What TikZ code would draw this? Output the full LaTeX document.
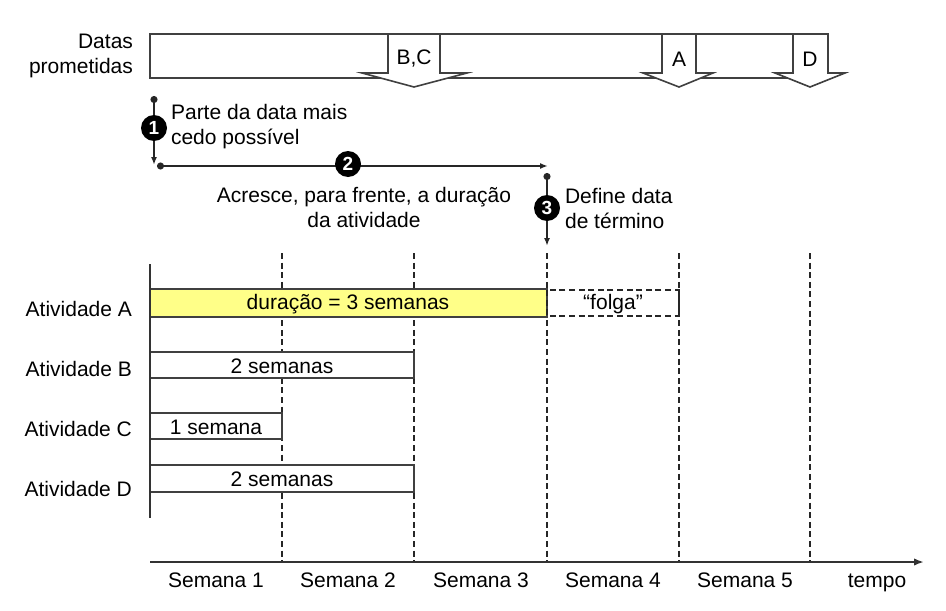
\documentclass[tikz,border=0pt]{standalone}
\usepackage{fontspec}
\setmainfont{Liberation Sans}
\usetikzlibrary{arrows.meta}

\begin{document}
\begin{tikzpicture}[x=0.5pt, y=-0.5pt, font=\fontsize{10.5}{12.5}\selectfont,
    frame/.style={draw=black!75, line width=0.8pt},
    stepline/.style={draw=black!85, line width=0.9pt, {Circle[length=3.5pt]}-{Latex[length=4pt]}},
    stepnum/.style={circle, fill=black, text=white, inner sep=0pt, minimum size=13pt, font=\fontsize{9.5}{9.5}\selectfont\bfseries},
    weekline/.style={draw=black!85, line width=0.8pt, dash pattern=on 3pt off 1.8pt},
    weeklabel/.style={text height=1.6ex, text depth=0.3ex},
    axis/.style={draw=black!80, line width=1pt}]
    \useasboundingbox (0,0) rectangle (946,610);

    \node[anchor=east, align=right] (prom) at (140,56) {Datas\\prometidas};
    \draw[frame] (150,34) rectangle (828,78);
    \filldraw[frame, fill=white] (388,34) -- (388,73) -- (362,73) -- (414,87) -- (467,73) -- (440,73) -- (440,34) -- cycle;
    \filldraw[frame, fill=white] (662,34) -- (662,73) -- (643,73) -- (679,87) -- (713,73) -- (696,73) -- (696,34) -- cycle;
    \filldraw[frame, fill=white] (793,34) -- (793,73) -- (775,73) -- (810,87) -- (845,73) -- (828,73) -- (828,34) -- cycle;
    \node (pBC) at (414,59) {B,C};
    \node (pA) at (679,59) {A};
    \node (pD) at (810,59) {D};

    \coordinate (s1a) at (154,96);
    \coordinate (s1b) at (154,165);
    \coordinate (s2a) at (157,166);
    \coordinate (s2b) at (548,166);
    \coordinate (s3a) at (547,173);
    \coordinate (s3b) at (547,246);
    \draw[stepline] (s1a) -- (s1b);
    \draw[stepline] (s2a) -- (s2b);
    \draw[stepline] (s3a) -- (s3b);
    \node[stepnum] (n1) at (154,128) {1};
    \node[stepnum] (n2) at (348,164) {2};
    \node[stepnum] (n3) at (547,208) {3};
    \node[anchor=west, align=left] (t1) at (164,127) {Parte da data mais\\cedo possível};
    \node[align=center] (t2) at (364,207) {Acresce, para frente, a duração\\da atividade};
    \node[anchor=west, align=left] (t3) at (558,208) {Define data\\de término};

    \draw[weekline] (282,253) -- (282,562);
    \draw[weekline] (414,253) -- (414,562);
    \draw[weekline] (547,253) -- (547,562);
    \draw[weekline] (679,253) -- (679,562);
    \draw[weekline] (810,253) -- (810,562);

    \filldraw[frame, fill={rgb,255:red,255;green,255;blue,136}] (150,289) rectangle (547,317);
    \draw[weekline] (547,290) rectangle (679,316);
    \draw[frame, fill=white] (150,352) rectangle (414,378);
    \draw[frame, fill=white] (150,413) rectangle (282,439);
    \draw[frame, fill=white] (150,465) rectangle (414,492);
    \node (barA) at (348,304) {duração = 3 semanas};
    \node (folga) at (613,304) {“folga”};
    \node (barB) at (282,366) {2 semanas};
    \node (barC) at (216,427) {1 semana};
    \node (barD) at (282,479) {2 semanas};

    \node[anchor=east] (actA) at (139,309) {Atividade A};
    \node[anchor=east] (actB) at (139,369) {Atividade B};
    \node[anchor=east] (actC) at (139,429) {Atividade C};
    \node[anchor=east] (actD) at (139,489) {Atividade D};

    \coordinate (y0) at (150,264);
    \coordinate (y1) at (150,518);
    \coordinate (x0) at (150,562);
    \coordinate (x1) at (924,562);
    \draw[axis] (y0) -- (y1);
    \draw[axis, -{Latex[length=5pt]}] (x0) -- (x1);

    \node[weeklabel] (w1) at (216,581) {Semana 1};
    \node[weeklabel] (w2) at (348,581) {Semana 2};
    \node[weeklabel] (w3) at (481,581) {Semana 3};
    \node[weeklabel] (w4) at (613,581) {Semana 4};
    \node[weeklabel] (w5) at (745,581) {Semana 5};
    \node[weeklabel] (tempo) at (877,581) {tempo};
\end{tikzpicture}
\end{document}
